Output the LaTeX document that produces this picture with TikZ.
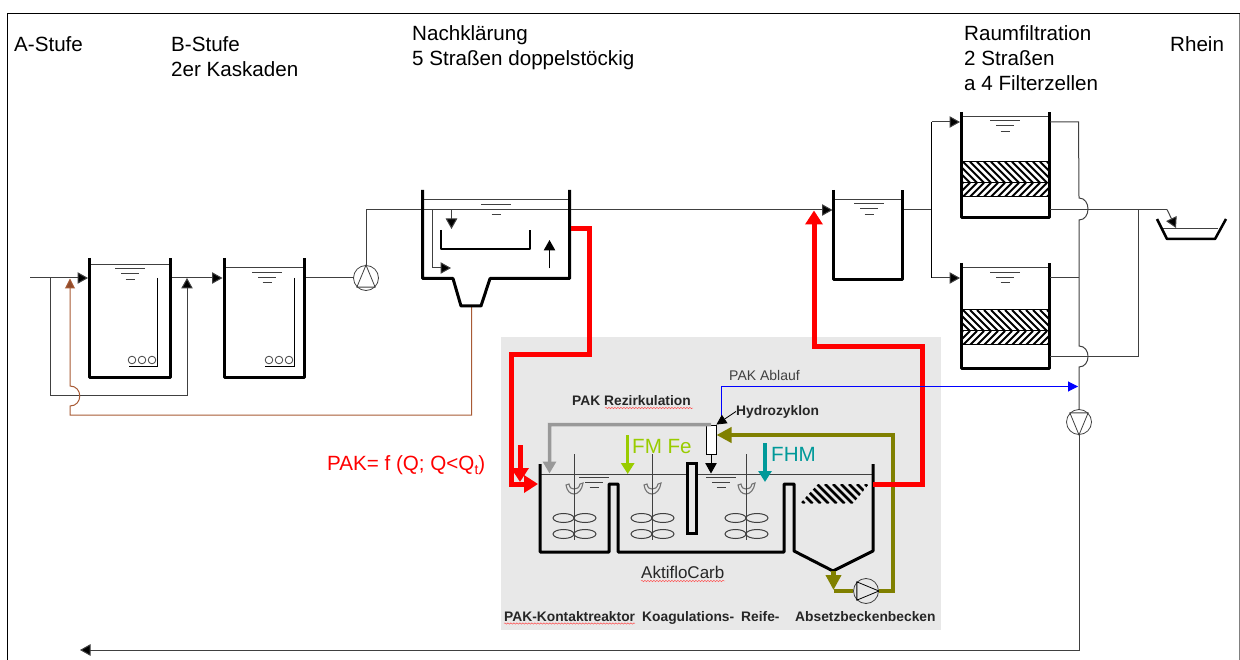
\documentclass[tikz,border=0pt]{standalone}
\usepackage{fontspec}
\setmainfont{Liberation Sans}
\usetikzlibrary{arrows.meta,decorations.pathmorphing,calc}
\definecolor{pipe}{HTML}{404040}
\definecolor{panel}{HTML}{E8E8E8}
\definecolor{olivepipe}{HTML}{808000}
\definecolor{fmgreen}{HTML}{99CC00}
\definecolor{fhmteal}{HTML}{009999}
\definecolor{brownpipe}{HTML}{A85A34}
\tikzset{
  x=1pt,y=-1pt,
  pipeline/.style={draw=pipe,line width=1pt},
  flow/.style={pipeline,-{Triangle[length=10.5pt,width=11.5pt,fill=black]}},
  wall/.style={draw=black,line width=3pt,line join=round},
  surface/.style={draw=pipe,line width=1pt},
  pumpnode/.style={circle,draw=pipe,line width=.8pt,minimum size=25pt,inner sep=0pt},
  redpipe/.style={draw=red,line width=5pt,line join=miter},
  redflow/.style={redpipe,-{Triangle[length=14pt,width=17pt]}},
  olivepipeline/.style={draw=olivepipe,line width=4.2pt},
  oliveflow/.style={olivepipeline,-{Triangle[length=15pt,width=15pt]}},
  dose/.style={line width=3.5pt,-{Triangle[length=11pt,width=13pt]}},
  label/.style={anchor=base west,inner sep=0pt,font=\fontsize{20.6}{24}\selectfont},
  smalllabel/.style={anchor=base west,inner sep=0pt,font=\fontsize{14}{16}\selectfont},
  boldlabel/.style={anchor=base west,inner sep=0pt,font=\fontsize{13.8}{16}\selectfont\bfseries,text=black!85},
  squiggle/.style={draw=red!70!white,line width=.45pt,decorate,decoration={snake,amplitude=.7pt,segment length=3pt}},
}
\newcommand{\watermark}[2]{%
  \draw[surface] (#1-15,#2) -- (#1+15,#2) (#1-9,#2+5) -- (#1+9,#2+5) (#1-4.5,#2+10.5) -- (#1+4.5,#2+10.5);}
\newcommand{\opentank}[5]{% x1 x2 top bottom water
  \draw[surface] (#1,#5) -- (#2,#5);
  \draw[wall] (#1,#3) -- (#1,#4) -- (#2,#4) -- (#2,#3);}
\newcommand{\hatchband}[5]{% x1 y1 x2 y2 dir(+1/-1)
  \begin{scope}
    \clip (#1,#2) rectangle (#3,#4);
    \pgfmathsetmacro{\bandh}{#4-#2}
    \foreach \s in {-40,-33,...,140}{
      \draw[black,line width=2pt] ({#1+\s},#2) -- ({#1+\s+(#5)*\bandh},#4);
    }
  \end{scope}
  \draw[black,line width=1pt] (#1,#2) -- (#3,#2) (#1,#4) -- (#3,#4);}
\newcommand{\mixer}[1]{%
  \draw[pipe,line width=.9pt] (#1,454) -- (#1,540);
  \foreach \dy in {518,534}{
    \draw[pipe,line width=1pt] (#1-10.5,\dy) ellipse [x radius=10.5,y radius=4.5];
    \draw[pipe,line width=1pt] (#1+11,\dy) ellipse [x radius=11,y radius=4.5];
  }
  \draw[gray!90!black,line width=1.1pt,fill=panel] (#1-8,485) .. controls (#1-7,491) and (#1-4,494) .. (#1,494)
     .. controls (#1+4,494) and (#1+8,490) .. (#1+9,483) -- (#1+6,484)
     .. controls (#1+5,488) and (#1+3,489) .. (#1,489)
     .. controls (#1-3,489) and (#1-4,488) .. (#1-5,484) -- cycle;
  \draw[pipe,line width=.9pt] (#1,480) -- (#1,498);
}
\begin{document}
\begin{tikzpicture}
\useasboundingbox (0,0) rectangle (1240,660);
% frame
\coordinate (fbl) at (7,660); \coordinate (ftl) at (7,14);
\coordinate (ftr) at (1239.5,14); \coordinate (fbr) at (1239.5,660);
\draw[black,line width=1pt] (fbl) -- (ftl) -- (ftr);
\draw[gray,line width=1pt] (ftr) -- (fbr);
% panel
\fill[panel] (501,337.5) rectangle (941,630);

% pumps
\node[pumpnode] (p1) at (366,278) {};
\node[pumpnode] (p2) at (1079,422) {};
\node[pumpnode,fill=panel] (p3) at (866,591) {};
\draw[pipe,line width=.8pt] (p1.north) -- (p1.south west) -- (p1.south east) -- cycle;
\draw[pipe,line width=.8pt] (p2.north west) -- (p2.south) -- (p2.north east) -- cycle;
\draw[black,line width=.8pt] (p3.north west) -- (p3.east) -- (p3.south west) -- cycle;

% anchors for connectors
\coordinate (in) at (30,278);
\coordinate (a1in) at (88,278);
\coordinate (a1out) at (171,278);
\coordinate (a2in) at (222.5,278);
\coordinate (a2out) at (306,278);
\coordinate (jbyp) at (50,278);
\coordinate (bypb1) at (50,395);
\coordinate (bypb2) at (187,395);
\coordinate (bypt) at (187,278);
\coordinate (nkin) at (366,210);
\coordinate (nkout) at (571,210);
\coordinate (mid) at (832.5,210);
\coordinate (fin) at (904,210);
\coordinate (fsplit) at (931.5,210);
\coordinate (fa) at (931.5,122);
\coordinate (fb) at (931.5,278);
\coordinate (faIn) at (960,122);
\coordinate (fbIn) at (960,278);
\coordinate (hop) at (471.5,307);

% A-Stufe / B-Stufe lines
\draw[pipeline] (in) -- (jbyp);
\draw[flow] (jbyp) -- (a1in);
\draw[flow] (a1out) -- (a2in);
\draw[pipeline] (a2out) -- (p1.west);
\draw[flow] (jbyp) -- (bypb1) -- (bypb2) -- (bypt);
\draw[pipeline] (p1.north) -- (nkin) -- (nkout |- nkin);
% brown return
\coordinate (br1) at (471.5,415); \coordinate (br2) at (70,415);
\coordinate (br3) at (70,406); \coordinate (br4) at (70,386); \coordinate (br5) at (70,278.5);
\draw[draw=brownpipe,line width=1pt,-{Triangle[length=10pt,width=10pt,fill=brownpipe!85!black]}]
  (hop) -- (br1) -- (br2) -- (br3) .. controls (83,406) and (83,386) .. (br4) -- (br5);

% tanks
\opentank{89.5}{170}{258}{377}{265}
\watermark{130}{269}
\draw[black,line width=.8pt] (157.5,278) -- (157.5,366.5) -- (129,366.5);
\foreach \cx in {132,142,152}{\draw[pipe,line width=.8pt] (\cx,360) circle [radius=3.8];}
\opentank{224}{304.5}{258}{377}{268}
\watermark{267}{272.5}
\draw[black,line width=.8pt] (294.5,278) -- (294.5,366.5) -- (265,366.5);
\foreach \cx in {269,279,289}{\draw[pipe,line width=.8pt] (\cx,360) circle [radius=3.8];}

% Nachklaerung
\draw[surface] (422.5,200) -- (569.5,200);
\draw[wall] (422.5,190) -- (422.5,278.5) -- (453,278.5) -- (461,306) -- (481,306) -- (490,278.5) -- (569.5,278.5) -- (569.5,190);
\watermark{496}{204.5}
\draw[wall,line width=2.5pt] (441,230) -- (441,249) -- (530,249) -- (530,230);
\coordinate (nk1) at (451.5,210); \coordinate (nk1t) at (451.5,229);
\coordinate (nk2) at (432,210); \coordinate (nk2b) at (432,268); \coordinate (nk2t) at (451,268);
\draw[flow] (nk1) -- (nk1t);
\draw[flow] (nk2) -- (nk2b) -- (nk2t);
\coordinate (nk3b) at (549.5,268.5); \coordinate (nk3t) at (549.5,240);
\draw[flow,draw=black] (nk3b) -- (nk3t);

% intermediate tank
\draw[flow] (nkout) -- (mid);
\opentank{833.5}{902}{190}{280}{199.5}
\watermark{869}{204}
\draw[pipeline] (fin) -- (fsplit);
\draw[pipeline,draw=black] (fa) -- (fb);
\draw[flow] (fa) -- (faIn);
\draw[flow] (fb) -- (fbIn);

% filters
\opentank{961}{1049}{112}{218}{116.7}
\watermark{1005}{121}
\hatchband{961}{161.7}{1049}{182.7}{1}
\hatchband{961}{182.7}{1049}{196.7}{-1}
\opentank{961}{1049}{263}{369}{268}
\watermark{1005}{272.5}
\hatchband{961}{310}{1049}{331}{1}
\hatchband{961}{331}{1049}{345}{-1}

% filter outlets
\coordinate (f1a) at (1050,122); \coordinate (v0) at (1078.5,122);
\coordinate (f1b) at (1050,209.5); \coordinate (f2a) at (1050,278); \coordinate (v2) at (1079,278);
\coordinate (f2b) at (1050,356.5); \coordinate (c1) at (1138,356.5); \coordinate (c2) at (1138,209.5);
\coordinate (r1) at (1167,209.5); \coordinate (r2) at (1176,228);
\coordinate (b1a) at (1079,198); \coordinate (b1b) at (1079,220);
\coordinate (b2a) at (1079,346); \coordinate (b2b) at (1079,367);
\coordinate (ret1) at (1079,650); \coordinate (ret2) at (80,650);
\draw[pipeline] (f1a) -- (v0) -- (b1a) .. controls (1091,198) and (1091,220) .. (b1b) -- (b2a)
   .. controls (1091,346) and (1091,367) .. (b2b) -- (p2.north);
\draw[pipeline] (f2a) -- (v2);
\draw[pipeline] (f1b) -- (r1);
\draw[flow] (r1) -- (r2);
\draw[pipeline] (f2b) -- (c1) -- (c2);
\draw[flow] (p2.south) -- (ret1) -- (ret2);

% Rhein trough
\draw[surface] (1163,229) -- (1218,229);
\draw[wall,line width=2.5pt] (1157,219) -- (1167,239) -- (1215,239) -- (1226,219);

% AktifloCarb basins
\draw[surface] (540,474) -- (873,474);
\draw[wall] (540,464) -- (540,552) -- (609,552) -- (609,484) -- (618,484) -- (618,552) -- (784,552)
   -- (784,484) -- (794,484) -- (794,551) -- (833,571) -- (873,551) -- (873,464);
\draw[black,line width=3pt,fill=panel] (687,463) rectangle (696.5,533);
\watermark{594}{477}
\watermark{721}{477}
\mixer{574}
\mixer{652}
\mixer{746}
% lamellae
\begin{scope}
  \clip (800,503.5) -- (853,503.5) -- (869,484) -- (818,484) -- cycle;
  \foreach \s in {785,793,...,880}{
    \draw[black,line width=2.6pt] (\s,484) -- (\s+19.5,503.5);
  }
\end{scope}

% hydrocyclone and its flows
\node[draw=black,line width=.8pt,fill=white,minimum width=10pt,minimum height=29.5pt,inner sep=0pt] (hz) at (711,439.7) {};
\coordinate (hzin) at (711,473.5);
\draw[flow,draw=black] (hz.south) -- (hzin);

% grey recirculation
\coordinate (gr1) at (549.5,424.5); \coordinate (gr2) at (549.5,473.5);
\draw[draw=gray!80,line width=3.5pt,-{Triangle[length=12pt,width=13pt]}] (hz.north) -- (gr1) -- (gr2);

% doses
\coordinate (fm1) at (627.7,435); \coordinate (fm2) at (627.7,474);
\coordinate (fh1) at (765,443); \coordinate (fh2) at (765,482);
\draw[dose,draw=fmgreen] (fm1) -- (fm2);
\draw[dose,draw=fhmteal] (fh1) -- (fh2);
\node[label,text=fmgreen] (tfm) at (632,453) {FM Fe};
\node[label,text=fhmteal] (tfh) at (771,461) {FHM};

% olive sludge
\coordinate (ol0) at (833.5,571); \coordinate (ol1) at (833.5,590);
\coordinate (ol2) at (893,591); \coordinate (ol3) at (893,435); \coordinate (ol4) at (716.5,435);
\draw[oliveflow] (ol0) -- (ol1);
\draw[olivepipeline] (ol1 |- p3) -- (p3.west);
\draw[oliveflow] (p3.east) -- (ol2) -- (ol3) -- (ol4);

% red dosing line
\coordinate (re1) at (571,229); \coordinate (re2) at (589,229); \coordinate (re3) at (589,355);
\coordinate (re4) at (511,355); \coordinate (re5) at (511,484); \coordinate (re6) at (538,484);
\draw[redflow] (re1) -- (re2) -- (re3) -- (re4) -- (re5) -- (re6);
\coordinate (rd1) at (520,445); \coordinate (rd2) at (520,482);
\draw[redflow] (rd1) -- (rd2);
\coordinate (ra1) at (873,484); \coordinate (ra2) at (922,484); \coordinate (ra3) at (922,346.7);
\coordinate (ra4) at (814,346.7); \coordinate (ra5) at (814,210.5);
\draw[redflow] (ra1) -- (ra2) -- (ra3) -- (ra4) -- (ra5);

% blue outlet
\coordinate (bl1) at (721,424); \coordinate (bl2) at (721,386.5); \coordinate (bl3) at (1078,386.5);
\draw[draw=blue,line width=1pt,-{Triangle[length=10pt,width=10pt]}] (bl1) -- (bl2) -- (bl3);

% labels
\node[label] (la) at (14,52) {A-Stufe};
\node[label] (lb1) at (171,52) {B-Stufe};
\node[label] (lb2) at (171,77) {2er Kaskaden};
\node[label] (ln1) at (412,40.5) {Nachklärung};
\node[label] (ln2) at (412,65.5) {5 Straßen doppelstöckig};
\node[label] (lr1) at (964,40.5) {Raumfiltration};
\node[label] (lr2) at (964,65.5) {2 Straßen};
\node[label] (lr3) at (964,90.5) {a 4 Filterzellen};
\node[label] (lrh) at (1170,51.5) {Rhein};
\node[label,text=red] (lpak) at (327,470) {PAK= f (Q; Q<Q\raisebox{-4pt}{\fontsize{14}{14}\selectfont t})};
\node[smalllabel,text=pipe] (lab) at (729,381) {PAK Ablauf};
\node[boldlabel] (lrz) at (572,405) {PAK Rezirkulation};
\node[boldlabel] (lhz) at (736,415) {Hydrozyklon};
\node[anchor=base west,inner sep=0pt,font=\fontsize{17}{20}\selectfont,text=black!85] (lak) at (641,578) {AktifloCarb};
\node[boldlabel] (lk1) at (504,621) {PAK-Kontaktreaktor};
\node[boldlabel] (lk2) at (642,621) {Koagulations-};
\node[boldlabel] (lk3) at (741,621) {Reife-};
\node[boldlabel] (lk4) at (795,621) {Absetzbeckenbecken};
\draw[squiggle] (lk1.base west)++(0,2.5) -- ++(131,0);
\draw[squiggle] (605,408) -- (693,408);
\draw[squiggle] (lak.base west)++(0,3) -- ++(84,0);
% hydrocyclone pointer
\draw[draw=black,line width=.8pt,-{Triangle[length=10pt,width=10pt]}] (lhz.west) -- (hz.north east);
\end{tikzpicture}
\end{document}
